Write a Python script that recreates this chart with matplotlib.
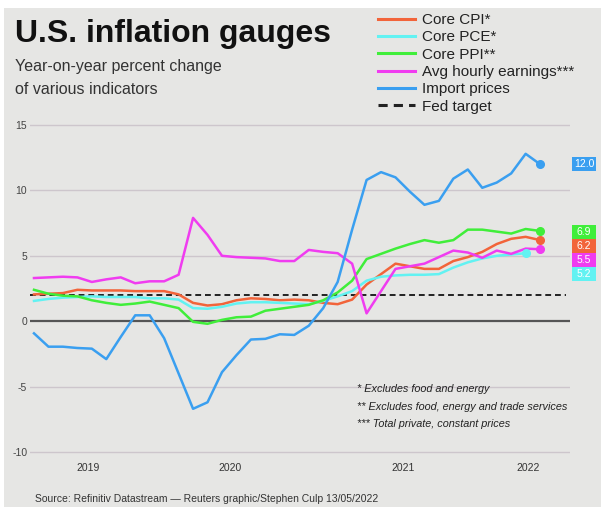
import matplotlib
matplotlib.use("Agg")
import matplotlib.pyplot as plt
from matplotlib.patches import Rectangle
import numpy as np

plt.rcParams['font.family'] = ['Liberation Sans', 'DejaVu Sans']

# ---- data: monthly, May 2019 .. Apr 2022 (index 0..35) ----
months = np.arange(36)
core_cpi = [2.05, 2.1, 2.15, 2.4, 2.35, 2.35, 2.35, 2.3, 2.3, 2.3, 2.05, 1.4,
            1.2, 1.3, 1.6, 1.75, 1.7, 1.6, 1.65, 1.6, 1.4, 1.3, 1.65, 2.8,
            3.6, 4.4, 4.2, 4.0, 4.0, 4.6, 4.9, 5.3, 5.9, 6.3, 6.45, 6.2]
core_pce = [1.55, 1.7, 1.8, 1.85, 1.9, 1.85, 1.85, 1.85, 1.75, 1.75, 1.65, 1.0,
            0.95, 1.1, 1.35, 1.45, 1.45, 1.4, 1.35, 1.3, 1.55, 1.9, 2.3, 3.1,
            3.4, 3.5, 3.55, 3.55, 3.6, 4.1, 4.5, 4.8, 5.0, 5.1, 5.2, np.nan]
core_ppi = [2.4, 2.1, 1.95, 1.9, 1.6, 1.4, 1.25, 1.35, 1.5, 1.25, 1.0, -0.05,
            -0.2, 0.1, 0.3, 0.35, 0.8, 0.95, 1.1, 1.25, 1.6, 2.2, 3.1, 4.75,
            5.15, 5.55, 5.9, 6.2, 6.0, 6.2, 7.0, 7.0, 6.85, 6.7, 7.05, 6.9]
avg_earn = [3.3, 3.35, 3.4, 3.35, 3.0, 3.2, 3.35, 2.9, 3.05, 3.05, 3.55, 7.9,
            6.6, 5.0, 4.9, 4.85, 4.8, 4.6, 4.6, 5.45, 5.3, 5.2, 4.4, 0.6,
            2.3, 4.0, 4.2, 4.4, 4.9, 5.4, 5.25, 4.85, 5.4, 5.15, 5.55, 5.5]
import_px = [-0.93, -1.95, -1.95, -2.05, -2.1, -2.9, -1.2, 0.45, 0.45, -1.3, -4.0, -6.7,
             -6.2, -3.9, -2.6, -1.4, -1.35, -1.0, -1.05, -0.35, 1.0, 3.0, 7.0, 10.8,
             11.4, 11.0, 9.9, 8.9, 9.2, 10.9, 11.6, 10.2, 10.6, 11.3, 12.8, 12.0]
fed_target = 2.0

series_names = ["Core CPI*", "Core PCE*", "Core PPI**", "Avg hourly earnings***", "Import prices"]
series_vals = [core_cpi, core_pce, core_ppi, avg_earn, import_px]
series_colors = ["#f2643a", "#62f2f2", "#40ee3a", "#f03cf0", "#3a9ff0"]
end_labels = ["6.2", "5.2", "6.9", "5.5", "12.0"]

year_labels = ["2019", "2020", "2021", "2022"]
year_pos = [3.73, 13.55, 25.52, 34.16]
y_ticks = [-10, -5, 0, 5, 10, 15]

# ---- figure ----
W, H = 601, 507
fig = plt.figure(figsize=(W / 100, H / 100), dpi=100, facecolor="white")
bg = "#e6e6e4"
fig.patches.append(Rectangle((4 / W, 0), 1, 1 - 8 / H, transform=fig.transFigure,
                             facecolor=bg, edgecolor="none", zorder=-10))

XS = 14.46   # px per month
YS = 13.08   # px per unit
ax_l, ax_r = 30, 570
ax_t, ax_b = 118.5, 458.5
ax = fig.add_axes([ax_l / W, 1 - ax_b / H, (ax_r - ax_l) / W, (ax_b - ax_t) / H])
ax.set_facecolor("none")
ax.set_xlim(-4 / XS, (ax_r - 34) / XS)
ax.set_ylim(-10.5, 15.5)
for s in ax.spines.values():
    s.set_visible(False)

for yv in y_ticks:
    if yv == 0:
        ax.axhline(0, color="#555555", lw=1.6, zorder=1)
    else:
        ax.axhline(yv, color="#cdc6cc", lw=1.0, zorder=1)
ax.set_yticks(y_ticks)
ax.set_yticklabels([str(v) for v in y_ticks], fontsize=7.5, color="#444444")
ax.tick_params(axis="y", length=0, pad=2)
ax.set_xticks(year_pos)
ax.set_xticklabels(year_labels, fontsize=7.5, color="#333333")
ax.tick_params(axis="x", length=0, pad=3)

fed_line, = ax.plot([ax.get_xlim()[0], 36.8], [fed_target, fed_target], color="#222222",
                    lw=1.4, ls=(0, (3, 2)), zorder=2)

handles = []
for name, vals, col in zip(series_names, series_vals, series_colors):
    ln, = ax.plot(months, vals, color=col, lw=1.8, zorder=3, solid_joinstyle="round")
    handles.append(ln)
    arr = np.array(vals, dtype=float)
    last = np.where(~np.isnan(arr))[0][-1]
    ax.plot(months[last], arr[last], "o", color=col, ms=5.5, zorder=4)

# end-value boxes, stacked to avoid overlap
order = [4, 2, 0, 3, 1]
bw, bh = 24 / XS, 14 / YS
bx = (584 - 34) / XS
prev = None
for k in order:
    arr = np.array(series_vals[k], dtype=float)
    v = arr[~np.isnan(arr)][-1]
    yy = v if prev is None else min(v, prev - bh)
    if k == 2:
        yy = v - 0.1
    prev = yy
    ax.add_patch(Rectangle((bx - bw / 2, yy - bh / 2), bw, bh, facecolor=series_colors[k],
                           edgecolor="none", clip_on=False, zorder=5))
    ax.text(bx, yy, end_labels[k], fontsize=7.5, color="white", ha="center", va="center",
            clip_on=False, zorder=6)

# legend
leg_handles = handles + [fed_line]
leg_labels = series_names + ["Fed target"]
leg = fig.legend(leg_handles, leg_labels, loc="upper left",
                 bbox_to_anchor=(378 / W, 1 - 13 / H), bbox_transform=fig.transFigure,
                 frameon=False, fontsize=11, handlelength=2.4, handletextpad=0.45,
                 labelspacing=0.22, borderpad=0, borderaxespad=0)
for t in leg.get_texts():
    t.set_color("#222222")
for lh in leg.get_lines():
    lh.set_linewidth(2.2)

# titles
fig.text(15 / W, 1 - 42 / H, "U.S. inflation gauges", fontsize=23, fontweight="bold",
         color="#111111", va="baseline")
fig.text(15 / W, 1 - 71 / H, "Year-on-year percent change", fontsize=11.5,
         color="#333333", va="baseline")
fig.text(15 / W, 1 - 94 / H, "of various indicators", fontsize=11.5,
         color="#333333", va="baseline")

# footnotes
notes = ["* Excludes food and energy",
         "** Excludes food, energy and trade services",
         "*** Total private, constant prices"]
for i, n in enumerate(notes):
    fig.text(357 / W, 1 - (389 + 17.5 * i) / H, n, fontsize=7.8, style="italic",
             color="#222222", va="center")

fig.text(35 / W, 1 - 499 / H,
         "Source: Refinitiv Datastream \u2014 Reuters graphic/Stephen Culp 13/05/2022",
         fontsize=7.5, color="#333333", va="center")

fig.savefig("out.png", dpi=100, facecolor=fig.get_facecolor())
